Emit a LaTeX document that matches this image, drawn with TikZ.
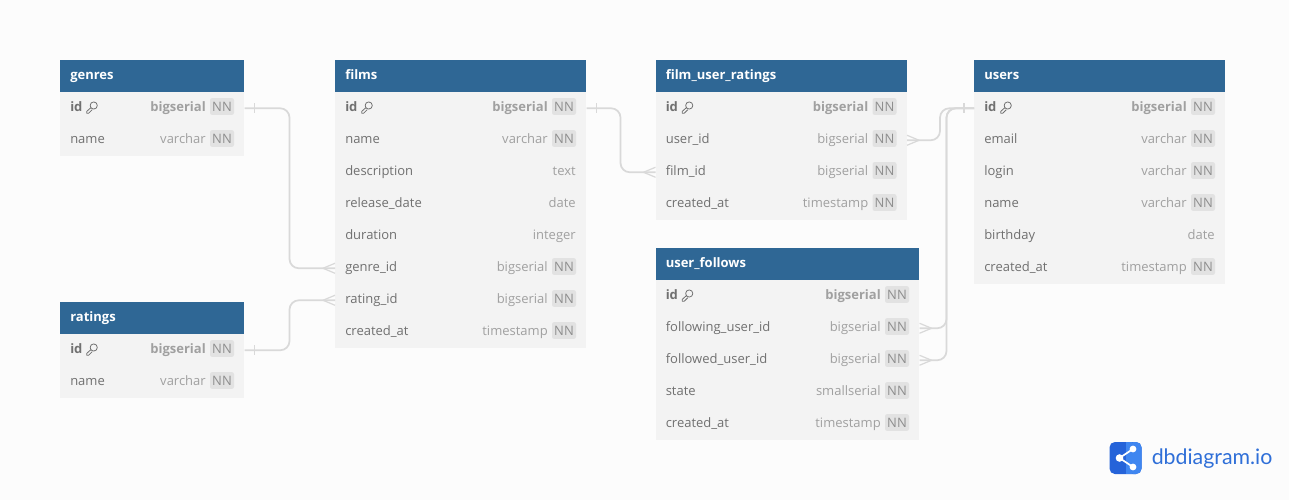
\documentclass[tikz,border=0pt]{standalone}
\usepackage{fontspec}
\setmainfont{Open Sans}
\newfontfamily\logofont{Lato}
\usetikzlibrary{calc}
\definecolor{pagebg}{HTML}{FCFCFC}
\definecolor{headbg}{HTML}{2F6795}
\definecolor{rowbg}{HTML}{F3F3F3}
\definecolor{fieldtxt}{HTML}{707070}
\definecolor{typetxt}{HTML}{A0A0A0}
\definecolor{nnbg}{HTML}{E2E2E2}
\definecolor{nntxt}{HTML}{8E8E8E}
\definecolor{connline}{HTML}{D9D9D9}
\definecolor{logoa}{HTML}{2563D9}
\definecolor{logob}{HTML}{3F86F0}
\definecolor{logotxt}{HTML}{2F6FD8}
\tikzset{
  x=0.75pt,y=-0.75pt,
  headbox/.style={fill=headbg,draw=none,inner sep=0,anchor=north west},
  rowbox/.style={fill=rowbg,draw=none,inner sep=0,anchor=north west},
  headtxt/.style={text=white,font=\fontsize{9.75}{12}\selectfont\bfseries,anchor=base west,inner sep=0},
  fieldlabel/.style={text=fieldtxt,font=\fontsize{9.75}{12}\selectfont,anchor=base west,inner sep=0},
  typelabel/.style={text=typetxt,font=\fontsize{9.75}{12}\selectfont,anchor=base east,inner sep=0},
  nnbox/.style={fill=nnbg,rounded corners=1.5pt,text=nntxt,font=\fontsize{9.75}{12}\selectfont,inner sep=0,minimum width=18pt,minimum height=12.5pt,text depth=0pt},
  conn/.style={draw=connline,line width=1.3pt,rounded corners=7pt},
  crow/.style={draw=connline,line width=0.9pt},
  keyicon/.style={draw=fieldtxt,line width=0.6pt,fill=none,line join=round},
}
% \dbtable{id}{x}{y}{w}{title}{rows: field/key?/type/nn?}
\newcommand{\dbtable}[6]{%
  \pgfmathsetmacro{\tx}{#2}\pgfmathsetmacro{\ty}{#3}\pgfmathsetmacro{\tw}{#4}
  \node[headbox,minimum width=\tw*0.75pt,minimum height=24pt] (#1-h) at (\tx,\ty) {};
  \node[headtxt] (#1-t) at (\tx+10,\ty+19) {#5};
  \foreach \fld/\iskey/\typ/\nn [count=\i] in {#6}{
    \pgfmathsetmacro{\ry}{\ty+32*\i}
    \node[rowbox,minimum width=\tw*0.75pt,minimum height=24pt] (#1-\i) at (\tx,\ry) {};
  }
  \foreach \fld/\iskey/\typ/\nn [count=\i] in {#6}{
    \pgfmathsetmacro{\ry}{\ty+32*\i}
    \ifnum\iskey=1
      \node[fieldlabel,font=\fontsize{9.75}{12}\selectfont\bfseries] (#1-\i-f) at (\tx+10,\ry+19) {\fld};
      \draw[keyicon] ($(#1-\i-f.base east)+(11,-5.5)$) circle[radius=3.6];
      \draw[keyicon] ($(#1-\i-f.base east)+(8.2,-3.4)$) -- ++(-4.2,3.8) -- ++(0,1.8) -- ++(2,0) -- ++(3.6,-3.6);
      \node[typelabel,font=\fontsize{9.75}{12}\selectfont\bfseries] (#1-\i-y) at (\tx+\tw-38,\ry+19) {\typ};
    \else
      \node[fieldlabel] (#1-\i-f) at (\tx+10,\ry+19) {\fld};
      \ifnum\nn=1
        \node[typelabel] (#1-\i-y) at (\tx+\tw-38,\ry+19) {\typ};
      \else
        \node[typelabel] (#1-\i-y) at (\tx+\tw-10,\ry+19) {\typ};
      \fi
    \fi
    \ifnum\nn=1
      \node[nnbox] (#1-\i-n) at (\tx+\tw-22,\ry+14.5) {NN};
    \fi
  }
}
\newcommand{\crowL}[1]{\draw[crow] ($(#1.west)+(-12,0)$) -- ($(#1.west)+(0,-5)$) ($(#1.west)+(-12,0)$) -- ($(#1.west)+(0,5)$);}
\newcommand{\crowR}[1]{\draw[crow] ($(#1.east)+(12,0)$) -- ($(#1.east)+(0,-5)$) ($(#1.east)+(12,0)$) -- ($(#1.east)+(0,5)$);}
\newcommand{\tickR}[1]{\draw[crow] ($(#1.east)+(10,-5)$) -- ($(#1.east)+(10,5)$);}
\newcommand{\tickL}[1]{\draw[crow] ($(#1.west)+(-10,-5)$) -- ($(#1.west)+(-10,5)$);}
\begin{document}
\begin{tikzpicture}
\useasboundingbox[fill=pagebg] (0,0) rectangle (1289,500);
\dbtable{genres}{60}{60}{184}{genres}{id/1/bigserial/1,name/0/varchar/1}
\dbtable{ratings}{60}{302}{184}{ratings}{id/1/bigserial/1,name/0/varchar/1}
\dbtable{films}{335}{60}{251}{films}{id/1/bigserial/1,name/0/varchar/1,description/0/text/0,release\_date/0/date/0,duration/0/integer/0,genre\_id/0/bigserial/1,rating\_id/0/bigserial/1,created\_at/0/timestamp/1}
\dbtable{fur}{655.5}{60}{251}{film\_user\_ratings}{id/1/bigserial/1,user\_id/0/bigserial/1,film\_id/0/bigserial/1,created\_at/0/timestamp/1}
\dbtable{uf}{655.5}{248}{263.5}{user\_follows}{id/1/bigserial/1,following\_user\_id/0/bigserial/1,followed\_user\_id/0/bigserial/1,state/0/smallserial/1,created\_at/0/timestamp/1}
\dbtable{users}{974}{60}{251}{users}{id/1/bigserial/1,email/0/varchar/1,login/0/varchar/1,name/0/varchar/1,birthday/0/date/0,created\_at/0/timestamp/1}
% connectors
\coordinate (m1) at (289.5,0);
\coordinate (m2) at (620.5,0);
\coordinate (m3) at (940,0);
\coordinate (m4) at (946.5,0);
\draw[conn] (genres-1.east) -- (genres-1.east -| m1) -- (films-6.west -| m1) -- (films-6.west);
\draw[conn] (ratings-1.east) -- (ratings-1.east -| m1) -- (films-7.west -| m1) -- (films-7.west);
\draw[conn] (films-1.east) -- (films-1.east -| m2) -- (fur-3.west -| m2) -- (fur-3.west);
\draw[conn] (fur-2.east) -- (fur-2.east -| m3) -- (users-1.west -| m3) -- (users-1.west);
\draw[conn] (uf-2.east) -- (uf-2.east -| m4) -- (users-1.west -| m4) -- (users-1.west);
\draw[conn] (uf-3.east) -- (uf-3.east -| m4) -- (users-1.west -| m4) -- (users-1.west);
\tickR{genres-1}\tickR{ratings-1}\tickR{films-1}\tickL{users-1}
\crowL{films-6}\crowL{films-7}\crowL{fur-3}
\crowR{fur-2}\crowR{uf-2}\crowR{uf-3}
% logo
\fill[logoa,rounded corners=4pt] (1109.5,442) rectangle (1141.5,474);
\fill[logob,rounded corners=4pt] (1128,442) rectangle (1141.5,474);
\fill[logob] (1125.5,442) rectangle (1132,474);
\coordinate (la) at (1119.5,458);
\coordinate (lb) at (1133,449);
\coordinate (lc) at (1133,467);
\draw[white,line width=1.3pt] (lb) -- (la) -- (lc);
\fill[white] (la) circle[radius=3.8] (lb) circle[radius=3.4] (lc) circle[radius=3.4];
\node[anchor=base west,inner sep=0,text=logotxt,font=\logofont\fontsize{16}{18}\selectfont] (logotext) at (1151.5,464.5) {dbdiagram.io};
\end{tikzpicture}
\end{document}
